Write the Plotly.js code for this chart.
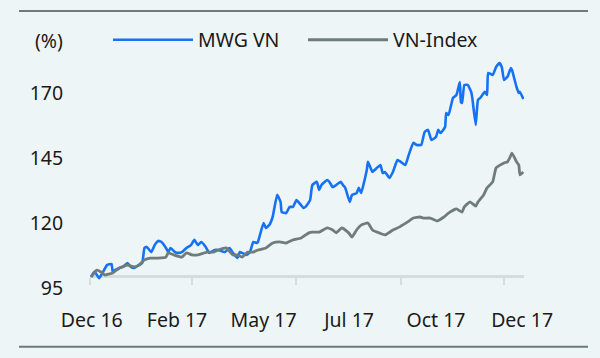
<!DOCTYPE html>
<html>
<head>
<meta charset="utf-8">
<script src="https://cdn.plot.ly/plotly-3.0.1.min.js"></script>
<style>
  html, body { margin: 0; padding: 0; background: #eef5f6; }
  #chart { width: 600px; height: 358px; }
</style>
</head>
<body>
<div id="chart"></div>
<script>
// ---- Data (rebased to 100) ----
const mwgDates = [
  '2016-12-02','2016-12-05','2016-12-09','2016-12-12','2016-12-16','2016-12-20','2016-12-21','2016-12-23','2016-12-27','2016-12-30',
  '2017-01-03','2017-01-06','2017-01-09','2017-01-12','2017-01-16','2017-01-18','2017-01-20','2017-01-24','2017-01-27','2017-01-30',
  '2017-02-02','2017-02-06','2017-02-08','2017-02-10','2017-02-14','2017-02-16','2017-02-20','2017-02-24','2017-02-28','2017-03-03',
  '2017-03-06','2017-03-09','2017-03-13','2017-03-16','2017-03-21','2017-03-24','2017-03-30','2017-04-03','2017-04-06','2017-04-10',
  '2017-04-12','2017-04-14','2017-04-18','2017-04-21','2017-04-24','2017-04-27','2017-04-28','2017-05-03','2017-05-05','2017-05-08',
  '2017-05-11','2017-05-15','2017-05-18','2017-05-19','2017-05-23','2017-05-26','2017-05-29','2017-06-01','2017-06-05','2017-06-07',
  '2017-06-09','2017-06-13','2017-06-15','2017-06-19','2017-06-21','2017-06-23','2017-06-28','2017-06-30','2017-07-03','2017-07-06',
  '2017-07-10','2017-07-12','2017-07-14','2017-07-18','2017-07-20','2017-07-24','2017-07-26','2017-07-28','2017-08-02','2017-08-03',
  '2017-08-07','2017-08-09','2017-08-14','2017-08-16','2017-08-18','2017-08-22','2017-08-25','2017-08-29','2017-09-01','2017-09-05',
  '2017-09-08','2017-09-12','2017-09-15','2017-09-19','2017-09-22','2017-09-25','2017-09-28','2017-10-02','2017-10-04','2017-10-06',
  '2017-10-10','2017-10-11','2017-10-13','2017-10-17','2017-10-20','2017-10-23','2017-10-24','2017-10-25','2017-10-27','2017-10-30',
  '2017-11-02','2017-11-03','2017-11-06','2017-11-08','2017-11-10','2017-11-14','2017-11-16','2017-11-17','2017-11-21','2017-11-24',
  '2017-11-27','2017-11-29','2017-12-01','2017-12-04','2017-12-07','2017-12-08','2017-12-12','2017-12-14','2017-12-15','2017-12-18'
];
const mwgValues = [
  99.3,101.3,98.8,100.8,103.8,104.2,101.2,101.9,102.7,103.1,
  104.6,103.1,102.7,103.5,104.6,110.4,110.8,108.8,111.5,113.1,
  112.7,110.4,108.8,110.4,108.8,108.5,108.8,110.4,111.5,113.5,
  111.5,112.7,110.8,108.5,109.6,109.6,108.8,110.4,108.5,106.5,
  108.8,108.5,107.7,108.8,112.7,112.3,112.7,120.0,118.1,119.2,
  122.3,130.8,128.1,124.2,123.8,126.2,126.2,128.8,126.9,125.8,
  126.2,128.8,134.6,135.8,132.7,134.6,136.5,135.8,133.8,134.6,
  135.8,134.6,133.5,128.1,130.8,131.5,133.5,131.5,140.4,143.5,
  139.6,140.4,142.3,139.2,139.6,137.3,139.6,144.2,143.5,142.3,
  146.2,150.8,150.0,150.0,155.0,155.8,151.9,153.1,155.8,154.6,
  156.9,162.3,161.5,168.1,169.2,174.2,166.5,166.2,173.1,173.1,
  170.4,168.1,157.7,167.3,168.1,170.4,169.2,177.7,176.9,180.0,
  181.5,180.0,175.0,176.2,179.6,178.8,172.3,170.0,170.4,167.7
];
const vniDates = [
  '2016-12-02','2016-12-07','2016-12-12','2016-12-14','2016-12-21','2016-12-27','2017-01-03','2017-01-09','2017-01-13','2017-01-18',
  '2017-01-23','2017-01-30','2017-02-06','2017-02-08','2017-02-13','2017-02-20','2017-02-24','2017-03-01','2017-03-06','2017-03-14',
  '2017-03-20','2017-03-24','2017-03-31','2017-04-06','2017-04-10','2017-04-14','2017-04-19','2017-04-24','2017-04-28','2017-05-05',
  '2017-05-11','2017-05-17','2017-05-23','2017-05-29','2017-06-05','2017-06-12','2017-06-15','2017-06-21','2017-06-28','2017-07-03',
  '2017-07-06','2017-07-11','2017-07-17','2017-07-20','2017-07-24','2017-07-28','2017-08-03','2017-08-07','2017-08-11','2017-08-18',
  '2017-08-25','2017-08-31','2017-09-07','2017-09-12','2017-09-18','2017-09-21','2017-09-27','2017-10-03','2017-10-09','2017-10-13',
  '2017-10-20','2017-10-25','2017-10-27','2017-11-01','2017-11-06','2017-11-08','2017-11-13','2017-11-16','2017-11-21','2017-11-24',
  '2017-12-01','2017-12-04','2017-12-06','2017-12-08','2017-12-12','2017-12-14','2017-12-15','2017-12-18'
];
const vniValues = [
  99.2,101.9,100.8,100.0,100.8,102.7,103.8,103.1,103.8,105.8,
  106.5,106.5,106.9,108.5,107.7,106.9,108.5,107.7,107.7,108.8,
  108.8,109.6,110.4,107.7,107.7,106.9,108.8,108.8,109.6,110.4,
  112.3,112.7,112.3,113.5,114.2,116.2,116.5,116.5,118.1,117.3,
  116.2,118.1,116.2,114.6,117.3,119.2,120.0,117.3,116.5,115.4,
  117.3,118.5,120.4,121.9,122.3,121.9,121.9,120.8,122.3,123.8,
  125.4,124.2,126.2,128.1,126.5,128.1,130.8,133.5,135.8,141.2,
  143.1,143.5,145.0,146.9,143.5,142.3,138.5,139.6
];
const seriesNames = ['MWG VN', 'VN-Index'];
const yTickVals = [95, 120, 145, 170];
const xLabelDates = ['2016-12-02 12:00','2017-02-15 17:00','2017-05-03','2017-07-17 10:00','2017-10-02','2017-12-16 22:00'];
const xLabelText = ['Dec 16','Feb 17','May 17','Jul 17','Oct 17','Dec 17'];
const xTickDates = ['2016-12-01','2017-03-01','2017-06-01','2017-09-01','2017-12-01'];

const xRange = ['2016-12-01', '2017-12-18 14:00'];
const blue = '#1672f5';
const grey = '#6e7c7a';
const bg = '#eef5f6';
const ruleColor = '#6b7a7a';
const axisColor = '#d5dede';
const fontSize = 19.5;

const traces = [
  { x: mwgDates, y: mwgValues, name: seriesNames[0], type: 'scatter', mode: 'lines',
    line: { color: blue, width: 2.6, shape: 'spline', smoothing: 0.4 }, xaxis: 'x', yaxis: 'y' },
  { x: vniDates, y: vniValues, name: seriesNames[1], type: 'scatter', mode: 'lines',
    line: { color: grey, width: 2.8, shape: 'spline', smoothing: 0.4 }, xaxis: 'x', yaxis: 'y' },
  // helper so the tick-mark axis is drawn
  { x: xRange, y: [null, null], xaxis: 'x2', yaxis: 'y', showlegend: false, hoverinfo: 'skip',
    type: 'scatter', mode: 'lines' }
];

const layout = {
  width: 600, height: 358,
  margin: { l: 90, r: 76, t: 55, b: 58 },
  paper_bgcolor: bg, plot_bgcolor: bg,
  font: { family: '"Noto Sans", "Open Sans", sans-serif', size: fontSize, color: '#1a1a1a' },
  showlegend: true,
  legend: {
    orientation: 'h', x: 0.0415, y: 1.061, xanchor: 'left', yanchor: 'middle',
    bgcolor: 'rgba(0,0,0,0)', itemwidth: 80, entrywidth: 100, entrywidthmode: 'pixels', tracegroupgap: 0,
    font: { size: fontSize, color: '#1a1a1a' }
  },
  xaxis: {
    type: 'date', range: xRange,
    tickvals: xLabelDates, ticktext: xLabelText,
    ticks: 'outside', ticklen: 3, tickcolor: 'rgba(0,0,0,0)',
    showline: false, showgrid: false, zeroline: false
  },
  xaxis2: {
    type: 'date', range: xRange, overlaying: 'x', anchor: 'free', position: 24 / 245, side: 'bottom',
    tickvals: xTickDates, showticklabels: false,
    ticks: 'outside', ticklen: 7, tickwidth: 2, tickcolor: axisColor,
    showline: true, linecolor: axisColor, linewidth: 3,
    showgrid: false, zeroline: false, layer: 'below traces'
  },
  yaxis: {
    range: [90.38, 184.6], tickvals: yTickVals,
    ticks: 'outside', ticklen: 22, tickcolor: 'rgba(0,0,0,0)',
    showline: false, showgrid: false, zeroline: false
  },
  annotations: [
    { text: '(%)', xref: 'paper', yref: 'paper', x: -0.1313, y: 1.061,
      xanchor: 'left', yanchor: 'middle', showarrow: false, font: { size: fontSize, color: '#1a1a1a' } }
  ],
  shapes: [
    { type: 'line', xref: 'paper', yref: 'paper', x0: -0.1636, x1: 1.1475, y0: 1.1796, y1: 1.1796,
      line: { color: ruleColor, width: 2 } },
    { type: 'line', xref: 'paper', yref: 'paper', x0: -0.1636, x1: 1.1475, y0: -0.1906, y1: -0.1906,
      line: { color: ruleColor, width: 2 } }
  ]
};

Plotly.newPlot('chart', traces, layout, { displayModeBar: false, staticPlot: true });
</script>
</body>
</html>
